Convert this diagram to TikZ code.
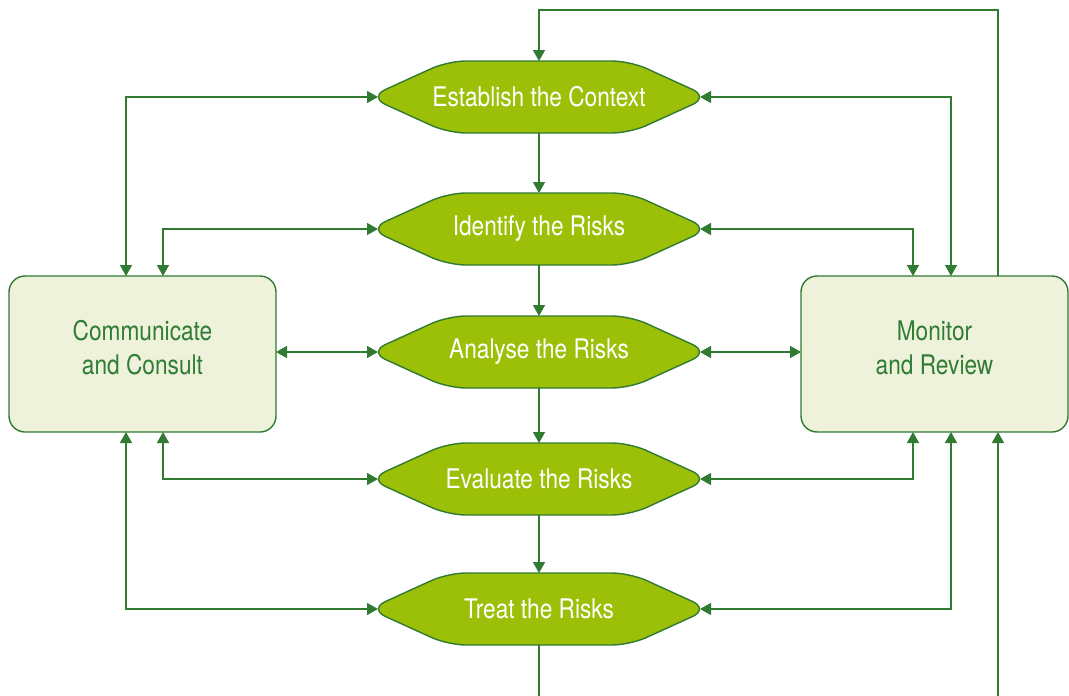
\documentclass[tikz,border=0pt]{standalone}
\usepackage{fontspec}
\setmainfont{TeX Gyre Heros}[FakeStretch=0.84]
\usetikzlibrary{arrows.meta,calc}
\definecolor{lineg}{HTML}{317A32}
\definecolor{hexg}{HTML}{9CC008}
\definecolor{boxg}{HTML}{EEF2DA}
\definecolor{txtg}{HTML}{2F7C34}
\tikzset{
  conn/.style={draw=lineg, line width=1.5pt},
  arr/.style={conn, -{Triangle[length=11pt,width=12pt]}},
  arrboth/.style={conn, {Triangle[length=11pt,width=12pt]}-{Triangle[length=11pt,width=12pt]}},
  hexshape/.style={fill=hexg, draw=lineg, line width=1.4pt, rounded corners=18pt},
  hextext/.style={rectangle, minimum width=322pt, minimum height=72pt, inner sep=0pt, outer sep=0pt,
    text=white, font=\fontsize{27}{32}\selectfont},
  sidebox/.style={rectangle, rounded corners=16pt, draw=lineg, line width=1.4pt, fill=boxg,
    minimum width=267pt, minimum height=156pt, inner sep=0pt, outer sep=0pt},
  sidetext/.style={align=center, text=txtg, inner sep=0pt, font=\fontsize{27}{34}\selectfont},
}
\newcommand\hexnode[3]{%
  \path[hexshape] (539,#2-36) -- (630,#2-36) -- (709,#2) -- (630,#2+36) -- (448,#2+36) -- (369,#2) -- (448,#2-36) -- cycle;
  \node[hextext] (#1) at (539,#2) {#3};
}
\begin{document}
\begin{tikzpicture}[x=1pt,y=-1pt]
\useasboundingbox (0,0) rectangle (1069,696);
\hexnode{est}{97}{Establish the Context}
\hexnode{ide}{229}{Identify the Risks}
\hexnode{ana}{352}{Analyse the Risks}
\hexnode{eva}{479}{Evaluate the Risks}
\hexnode{tre}{609}{Treat the Risks}
\node[sidebox] (cc) at (142.5,354) {};
\node[sidetext] (cct) at ([yshift=6pt]cc.center) {Communicate\\and Consult};
\node[sidebox] (mon) at (934.5,354) {};
\node[sidetext] (mont) at ([yshift=6pt]mon.center) {Monitor\\and Review};
\coordinate (loopT) at (539,10);
\coordinate (outB) at (539,696);
\coordinate (inB) at (998,696);
% vertical flow
\draw[arr] (est.south) -- (ide.north);
\draw[arr] (ide.south) -- (ana.north);
\draw[arr] (ana.south) -- (eva.north);
\draw[arr] (eva.south) -- (tre.north);
\draw[conn] (tre.south) -- (outB);
% left side
\draw[arrboth] ([xshift=-16.5]cc.north) |- (est.west);
\draw[arrboth] ([xshift=20.5]cc.north) |- (ide.west);
\draw[arrboth] (cc.east |- ana.west) -- (ana.west);
\draw[arrboth] ([xshift=20.5]cc.south) |- (eva.west);
\draw[arrboth] ([xshift=-16.5]cc.south) |- (tre.west);
% right side
\draw[arrboth] ([xshift=16.5]mon.north) |- (est.east);
\draw[arrboth] ([xshift=-21.5]mon.north) |- (ide.east);
\draw[arrboth] (ana.east) -- (mon.west |- ana.east);
\draw[arrboth] ([xshift=-21.5]mon.south) |- (eva.east);
\draw[arrboth] ([xshift=16.5]mon.south) |- (tre.east);
% loops
\draw[arr] ([xshift=63.5]mon.north) |- (loopT) -- (est.north);
\draw[arr] (inB) -- ([xshift=63.5]mon.south);
\end{tikzpicture}
\end{document}
